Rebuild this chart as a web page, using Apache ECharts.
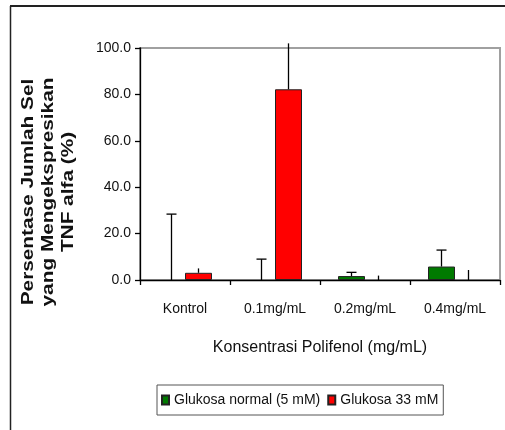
<!DOCTYPE html>
<html>
<head>
<meta charset="utf-8">
<script src="https://cdn.jsdelivr.net/npm/echarts@6/dist/echarts.min.js"></script>
<style>
  html, body { margin: 0; padding: 0; background: #fff; }
  #chart { width: 505px; height: 430px; }
</style>
</head>
<body>
<div id="chart"></div>
<script>
// ---- Data ----
const categories = ['Kontrol', '0.1mg/mL', '0.2mg/mL', '0.4mg/mL'];
const seriesNames = ['Glukosa normal (5 mM)', 'Glukosa 33 mM'];
const normalValues = [0, 0, 1.7, 5.8];
const normalErrorTop = [28.4, 9.0, 3.3, 12.9];
const highValues = [3.1, 82.2, 0, 0];
const highErrorTop = [5.0, 102.0, 1.9, 4.3];
const yTicks = { min: 0, max: 100, interval: 20 };
const yTitle = 'Persentase Jumlah Sel\nyang Mengekspresikan\nTNF alfa (%)';
const xTitle = 'Konsentrasi Polifenol (mg/mL)';

const FONT = '"Liberation Sans", Arial, sans-serif';
const BAR_W = 27;

// zero-height bars are not drawn in the reference
const barData = vals => vals.map(v => (v === 0 ? null : v));

function errorSeries(values, tops, offset, withCap) {
  return {
    type: 'custom',
    silent: true,
    z: 5,
    clip: false,
    data: values.map((v, i) => [i, v, tops[i]]),
    renderItem: function (params, api) {
      const base = api.coord([api.value(0), api.value(1)]);
      const top = api.coord([api.value(0), api.value(2)]);
      const x = base[0] + offset;
      const children = [{
        type: 'line',
        shape: { x1: x, y1: base[1], x2: x, y2: top[1] },
        style: { stroke: '#000', lineWidth: 1.3 }
      }];
      if (withCap) {
        children.push({
          type: 'line',
          shape: { x1: x - 5, y1: top[1], x2: x + 5, y2: top[1] },
          style: { stroke: '#000', lineWidth: 1.3 }
        });
      }
      return { type: 'group', children: children };
    }
  };
}

const chart = echarts.init(document.getElementById('chart'));
chart.setOption({
  animation: false,
  backgroundColor: '#fff',
  grid: {
    left: 140, top: 48, right: 5, bottom: 150,
    show: true, borderColor: '#a0a0a0', borderWidth: 2, backgroundColor: 'transparent'
  },
  graphic: [
    { type: 'line', shape: { x1: 10, y1: 6, x2: 505, y2: 6 }, style: { stroke: '#222', lineWidth: 2 } },
    { type: 'line', shape: { x1: 10.5, y1: 6, x2: 10.5, y2: 430 }, style: { stroke: '#222', lineWidth: 1.5 } },
    {
      type: 'text',
      x: 49, y: 192,
      rotation: Math.PI / 2,
      scaleX: 1.3,
      style: {
        text: yTitle,
        fontFamily: FONT, fontSize: 16, fontWeight: 'bold',
        fill: '#111', lineHeight: 20,
        align: 'center', verticalAlign: 'middle'
      }
    }
  ],
  legend: {
    data: seriesNames,
    left: 157, top: 385,
    orient: 'horizontal',
    icon: 'rect',
    itemWidth: 7, itemHeight: 9,
    itemGap: 7,
    padding: [8, 5, 8, 4],
    borderColor: '#555', borderWidth: 1,
    textStyle: { fontFamily: FONT, fontSize: 14, color: '#111' }
  },
  xAxis: {
    type: 'category',
    data: categories,
    name: xTitle,
    nameLocation: 'middle',
    nameGap: 60,
    nameTextStyle: { fontFamily: FONT, fontSize: 16, color: '#111', verticalAlign: 'top' },
    axisLine: { lineStyle: { color: '#000', width: 1.3 } },
    axisTick: { show: true, length: 5, lineStyle: { color: '#000', width: 1.3 } },
    axisLabel: { fontFamily: FONT, fontSize: 14, color: '#111', margin: 22, interval: 0 },
    splitLine: { show: false }
  },
  yAxis: {
    type: 'value',
    min: yTicks.min, max: yTicks.max, interval: yTicks.interval,
    axisLine: { show: true, lineStyle: { color: '#000', width: 1.3 } },
    axisTick: { show: true, length: 5, lineStyle: { color: '#000', width: 1.3 } },
    axisLabel: { fontFamily: FONT, fontSize: 14, color: '#111', margin: 9, formatter: v => v.toFixed(1) },
    splitLine: { show: false }
  },
  series: [
    {
      name: seriesNames[0], type: 'bar', data: barData(normalValues),
      barWidth: BAR_W, barGap: '0%',
      itemStyle: { color: '#007a00', borderColor: '#222', borderWidth: 1 }
    },
    {
      name: seriesNames[1], type: 'bar', data: barData(highValues),
      barWidth: BAR_W, barGap: '0%',
      itemStyle: { color: '#ff0000', borderColor: '#222', borderWidth: 1 }
    },
    errorSeries(normalValues, normalErrorTop, -BAR_W / 2, true),
    errorSeries(highValues, highErrorTop, BAR_W / 2, false)
  ]
});
</script>
</body>
</html>
